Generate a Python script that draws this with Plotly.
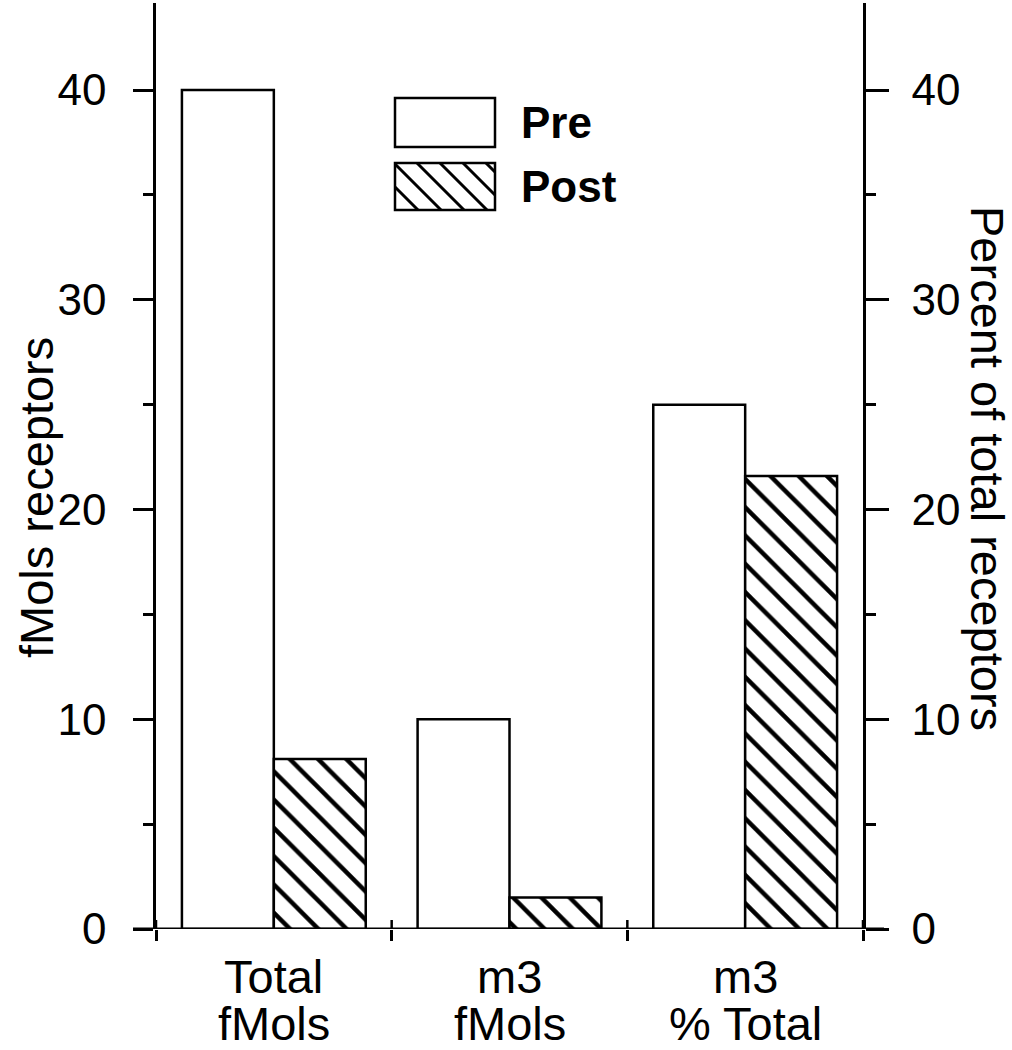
import plotly.graph_objects as go

# ---- data ----
categories = ["Total\nfMols", "m3\nfMols", "m3\n% Total"]
series_names = ["Pre", "Post"]
pre_values = [40.0, 10.0, 25.0]
post_values = [8.1, 1.5, 21.6]
y_ticks = [0, 10, 20, 30, 40]
left_title = "fMols receptors"
right_title = "Percent of total receptors"

# ---- layout geometry (pixels) ----
W, H = 1012, 1050
L, R, T, B = 156, 863, 3, 929
YMAX = 44.15
FONT = "Liberation Sans, Arial, sans-serif"
FS = 44      # tick labels
FS_TXT = 47  # category labels and titles


def px(x):
    return (x - L) / (R - L)


def py(y):
    return (B - y) / (B - T)


xpos = list(range(len(categories)))

fig = go.Figure()
fig.add_trace(go.Bar(
    x=xpos, y=pre_values, name=series_names[0],
    marker=dict(color="white", line=dict(color="black", width=2.5)),
    showlegend=False,
))
fig.add_trace(go.Bar(
    x=xpos, y=post_values, name=series_names[1],
    marker=dict(color="white", line=dict(color="black", width=2.5),
                pattern=dict(shape="\\", size=20, solidity=0.22,
                             fgcolor="black", bgcolor="white", fillmode="replace")),
    showlegend=False,
))
# invisible trace to activate the right axis
fig.add_trace(go.Scatter(x=[0], y=[0], yaxis="y2",
                         mode="markers", marker=dict(opacity=0), showlegend=False,
                         hoverinfo="skip"))

boundaries = [i - 0.5 for i in range(len(categories) + 1)]

fig.update_layout(
    width=W, height=H,
    margin=dict(l=L, r=W - R, t=T, b=H - B, pad=0, autoexpand=False),
    plot_bgcolor="white", paper_bgcolor="white",
    barmode="group", bargap=0.22, bargroupgap=0,
    font=dict(family=FONT, size=FS, color="black"),
    xaxis=dict(range=[-0.5, len(categories) - 0.5], tickvals=boundaries,
               showticklabels=False, ticks="outside", ticklen=11, tickwidth=2.5,
               tickcolor="black", showline=False, showgrid=False, zeroline=False,
               automargin=False),
    yaxis=dict(range=[0, YMAX], tickvals=y_ticks, ticks="outside", ticklen=20,
               tickwidth=2.5, tickcolor="black", showline=True, linewidth=2.5,
               linecolor="black", showgrid=False, zeroline=False,
               ticklabelstandoff=18, automargin=False,
               minor=dict(tickvals=[5, 15, 25, 35], ticks="outside", ticklen=10,
                          tickwidth=2.5, tickcolor="black", showgrid=False),
               tickfont=dict(size=FS)),
    yaxis2=dict(overlaying="y", anchor="x", side="right", range=[0, YMAX],
                tickvals=y_ticks, ticks="outside", ticklen=23, tickwidth=2.5,
                tickcolor="black", showline=True, linewidth=2.5, linecolor="black",
                showgrid=False, zeroline=False, ticklabelstandoff=14,
                automargin=False,
                minor=dict(tickvals=[5, 15, 25, 35], ticks="outside", ticklen=10,
                           tickwidth=2.5, tickcolor="black", showgrid=False),
                tickfont=dict(size=FS)),
)

shapes = []
# x-axis baseline extending past both y axes
shapes.append(dict(type="line", xref="paper", yref="y", x0=px(133), x1=px(884),
                   y0=0, y1=0, line=dict(color="black", width=3)))
# inner part of the crossing x ticks at category boundaries
for bnd in boundaries:
    shapes.append(dict(type="line", xref="x", yref="paper", x0=bnd, x1=bnd,
                       y0=0, y1=py(920), line=dict(color="black", width=2.5)))

annotations = []
# category labels (two lines each)
line_centers = [976, 1023]
for i, cat in enumerate(categories):
    for j, part in enumerate(cat.split("\n")):
        annotations.append(dict(x=i, xref="x", y=py(line_centers[j]), yref="paper",
                                text=part, showarrow=False, xanchor="center",
                                yanchor="middle", font=dict(size=FS_TXT)))

# axis titles
annotations.append(dict(x=px(36), xref="paper", y=py(498), yref="paper",
                        text=left_title, textangle=-90, showarrow=False,
                        xanchor="center", yanchor="middle", font=dict(size=FS_TXT)))
annotations.append(dict(x=px(988), xref="paper", y=py(468), yref="paper",
                        text=right_title, textangle=90, showarrow=False,
                        xanchor="center", yanchor="middle", font=dict(size=FS_TXT)))

# legend (drawn manually)
bx0, bx1 = 395, 495
pre_box = (98, 147)
post_box = (163, 210)
shapes.append(dict(type="rect", xref="paper", yref="paper",
                   x0=px(bx0), x1=px(bx1), y0=py(pre_box[1]), y1=py(pre_box[0]),
                   line=dict(color="black", width=2.5), fillcolor="white"))
shapes.append(dict(type="rect", xref="paper", yref="paper",
                   x0=px(bx0), x1=px(bx1), y0=py(post_box[1]), y1=py(post_box[0]),
                   line=dict(color="black", width=2.5), fillcolor="white"))
# hatch lines "\" inside Post box: x - y = c
ya, yb = post_box
spacing = 23
c = bx0 - yb
while c < bx1 - ya:
    y_lo = max(ya, bx0 - c)
    y_hi = min(yb, bx1 - c)
    if y_hi > y_lo + 1:
        shapes.append(dict(type="line", xref="paper", yref="paper",
                           x0=px(y_lo + c), y0=py(y_lo), x1=px(y_hi + c), y1=py(y_hi),
                           line=dict(color="black", width=3)))
    c += spacing

annotations.append(dict(x=px(519), xref="paper", y=py(122), yref="paper",
                        text=series_names[0], showarrow=False, xanchor="left",
                        yanchor="middle", font=dict(size=44, family=FONT, weight="bold")))
annotations.append(dict(x=px(519), xref="paper", y=py(186), yref="paper",
                        text=series_names[1], showarrow=False, xanchor="left",
                        yanchor="middle", font=dict(size=44, family=FONT, weight="bold")))

fig.update_layout(shapes=shapes, annotations=annotations)
fig.write_html(
    "out.html",
    config={"displayModeBar": False},
    post_script="document.body.style.margin='0';document.body.style.padding='0';",
)
